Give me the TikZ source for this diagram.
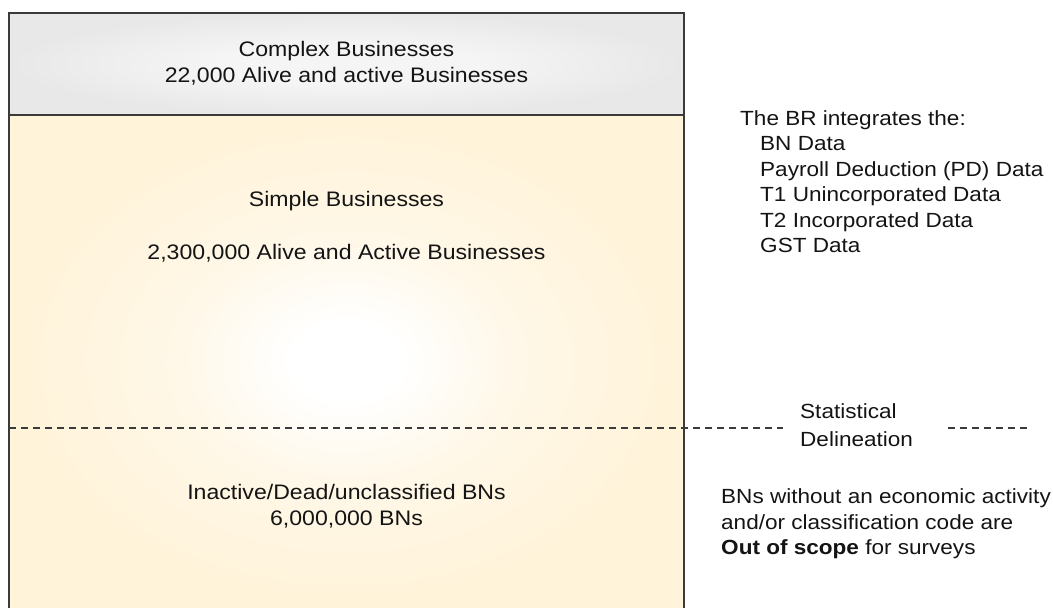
\documentclass[tikz,border=0pt]{standalone}
\usepackage{fontspec}
\setmainfont{Liberation Sans}[FakeStretch=1.1]
\usetikzlibrary{positioning}

\definecolor{framegray}{HTML}{3A3A3A}
\definecolor{inkgray}{HTML}{141414}
\definecolor{bizcream}{HTML}{FFF3DA}
\definecolor{topgray}{HTML}{E8E8E8}
\colorlet{creammid}{bizcream!65!white}
\colorlet{graymid}{topgray!45!white}

% soft glow in the middle of each panel
\pgfdeclareradialshading{creamglow}{\pgfpoint{0bp}{0bp}}{color(0bp)=(white); color(4bp)=(white); color(13bp)=(creammid); color(24bp)=(bizcream); color(50bp)=(bizcream)}
\pgfdeclareradialshading{grayglow}{\pgfpoint{0bp}{0bp}}{color(0bp)=(graymid); color(10bp)=(graymid); color(25bp)=(topgray); color(50bp)=(topgray)}

\begin{document}
\begin{tikzpicture}[x=1pt, y=-1pt, font=\fontsize{20.5}{25.5}\selectfont, text=inkgray,
    frame/.style={draw=framegray, line width=1.5pt},
    cutline/.style={draw=framegray, line width=1.2pt, dash pattern=on 7pt off 5pt},
    label/.style={align=center, inner sep=0pt, font=\fontsize{21}{25.5}\selectfont},
    note/.style={align=left, inner sep=0pt, anchor=north west}]

  \useasboundingbox (0,0) rectangle (1053,608);

  % panels
  \shade[shading=creamglow] (9,115) rectangle (684,608);
  \shade[shading=grayglow] (9,13) rectangle (684,115);
  \draw[frame] (9,620) -- (9,13) -- (684,13) -- (684,620);
  \draw[frame] (9,115) -- (684,115);

  % statistical delineation
  \coordinate (cutA) at (9,428);
  \coordinate (cutB) at (783,428);
  \coordinate (cutC) at (948,428);
  \coordinate (cutD) at (1028,428);
  \draw[cutline] (cutA) -- (cutB);
  \draw[cutline] (cutC) -- (cutD);

  \node[label] (complex) at (346.5,63) {Complex Businesses\\22,000 Alive and active Businesses};
  \node[label] (simple) at (346.5,227) {Simple Businesses\\[27.5pt]2,300,000 Alive and Active Businesses};
  \node[label] (inactive) at (346.5,506) {Inactive/Dead/unclassified BNs\\6,000,000 BNs};

  \node[note] (sources) at (740,110) {The BR integrates the:\\
    \hspace*{20pt}BN Data\\
    \hspace*{20pt}Payroll Deduction (PD) Data\\
    \hspace*{20pt}T1 Unincorporated Data\\
    \hspace*{20pt}T2 Incorporated Data\\
    \hspace*{20pt}GST Data};
  \node[note] (delin) at (800,403.5) {Statistical\\[2pt]Delineation};
  \node[note] (scope) at (721,488.5) {BNs without an economic activity\\
    and/or classification code are\\
    \textbf{Out of scope} for surveys};
\end{tikzpicture}
\end{document}
